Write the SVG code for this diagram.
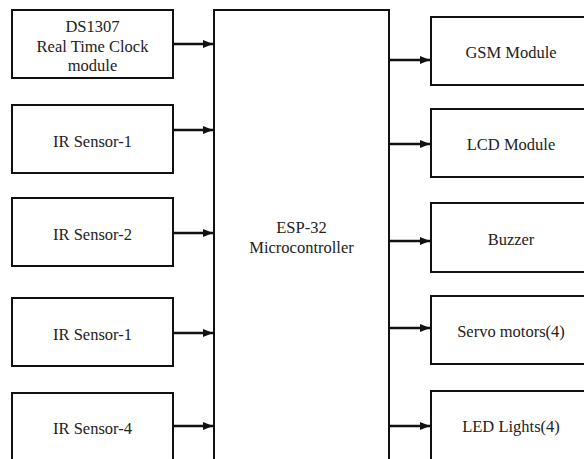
<svg xmlns="http://www.w3.org/2000/svg" width="584" height="459" viewBox="0 0 584 459">
<style>
.box{fill:#fff;stroke:#111;stroke-width:2}
.t{font-family:'Liberation Serif','Times New Roman',Times,'DejaVu Serif',serif;font-size:16.5px;fill:#222;text-anchor:middle}
.c{stroke:#111;stroke-width:2.5;fill:none}
</style>
<defs>
<marker id="ah" viewBox="0 0 10 10" refX="10" refY="5" markerWidth="4" markerHeight="4" orient="auto" markerUnits="strokeWidth">
<path d="M0,1 L10,5 L0,9 Z" fill="#111"/>
</marker>
</defs>
<rect width="584" height="459" fill="#fff"/>
<g id="rtc"><rect class="box" x="12" y="10" width="161" height="68"/>
<text class="t" x="92.5" y="32">DS1307</text><text class="t" x="92.5" y="52">Real Time Clock</text><text class="t" x="92.5" y="71">module</text></g>
<g id="ir1"><rect class="box" x="12" y="105" width="161" height="68"/><text class="t" x="92.5" y="147">IR Sensor-1</text></g>
<g id="ir2"><rect class="box" x="12" y="198" width="161" height="68"/><text class="t" x="92.5" y="240">IR Sensor-2</text></g>
<g id="ir3"><rect class="box" x="12" y="298" width="161" height="68"/><text class="t" x="92.5" y="340">IR Sensor-1</text></g>
<g id="ir4"><rect class="box" x="12" y="393" width="161" height="80"/><text class="t" x="92.5" y="434">IR Sensor-4</text></g>
<g id="esp"><rect class="box" x="214" y="10" width="175" height="470"/>
<text class="t" x="301.5" y="233">ESP-32</text><text class="t" x="301.5" y="253">Microcontroller</text></g>
<g id="gsm"><rect class="box" x="431" y="17" width="170" height="68"/><text class="t" x="511" y="58">GSM Module</text></g>
<g id="lcd"><rect class="box" x="431" y="109" width="170" height="68"/><text class="t" x="511" y="150">LCD Module</text></g>
<g id="buzzer"><rect class="box" x="431" y="203" width="170" height="69"/><text class="t" x="511" y="245">Buzzer</text></g>
<g id="servo"><rect class="box" x="431" y="296" width="170" height="68"/><text class="t" x="511" y="337">Servo motors(4)</text></g>
<g id="led"><rect class="box" x="431" y="391" width="170" height="80"/><text class="t" x="511" y="432">LED Lights(4)</text></g>
<g id="connectors">
<line class="c" x1="173" y1="44" x2="213" y2="44" marker-end="url(#ah)"/>
<line class="c" x1="173" y1="130" x2="213" y2="130" marker-end="url(#ah)"/>
<line class="c" x1="173" y1="233" x2="213" y2="233" marker-end="url(#ah)"/>
<line class="c" x1="173" y1="333" x2="213" y2="333" marker-end="url(#ah)"/>
<line class="c" x1="173" y1="426" x2="213" y2="426" marker-end="url(#ah)"/>
<line class="c" x1="389" y1="60" x2="430" y2="60" marker-end="url(#ah)"/>
<line class="c" x1="389" y1="144" x2="430" y2="144" marker-end="url(#ah)"/>
<line class="c" x1="389" y1="241" x2="430" y2="241" marker-end="url(#ah)"/>
<line class="c" x1="389" y1="328" x2="430" y2="328" marker-end="url(#ah)"/>
<line class="c" x1="389" y1="426" x2="430" y2="426" marker-end="url(#ah)"/>
</g>
</svg>
